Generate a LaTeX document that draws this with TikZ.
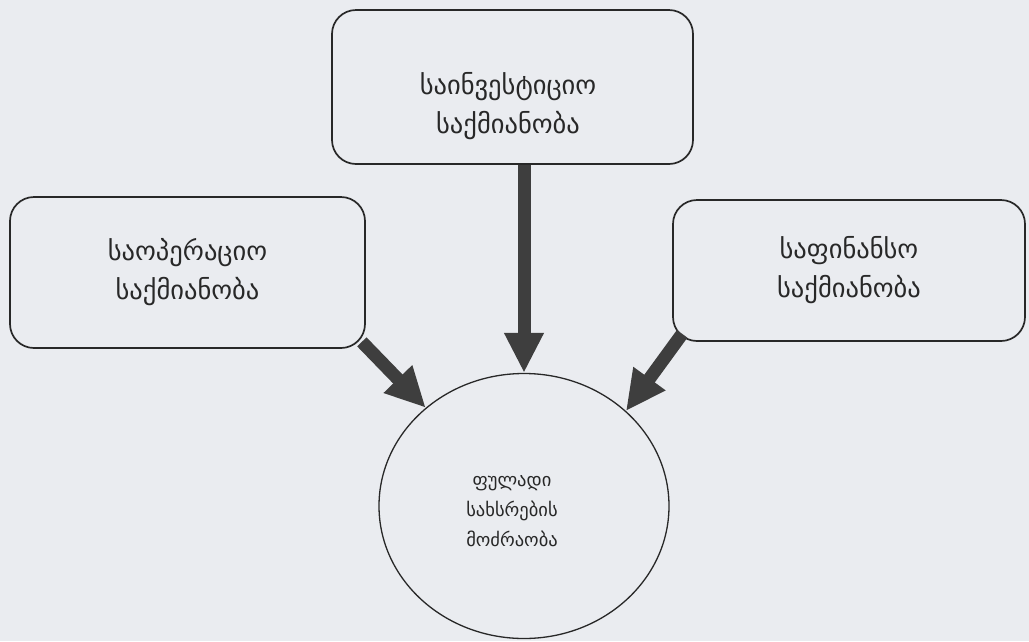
\documentclass[tikz,border=0pt]{standalone}
\usepackage{fontspec}
\newfontfamily\geo{DejaVu Sans}
\usetikzlibrary{arrows.meta,calc,shapes.geometric}
\definecolor{bg}{RGB}{234,236,240}
\definecolor{ink}{RGB}{40,40,40}
\definecolor{arr}{RGB}{62,62,62}
\begin{document}
\begin{tikzpicture}[x=1pt,y=-1pt,
  box/.style={draw=ink, line width=1.7pt, rounded corners=24pt, inner sep=0pt},
  boxfont/.style={align=center, font=\geo\fontsize{26.5}{39}\selectfont, text=ink},
  boxtext/.style={boxfont, inner sep=0pt},
  circtext/.style={align=center, font=\geo\fontsize{18.5}{30}\selectfont, text=ink, inner sep=0pt},
  flow/.style={draw=arr, line width=13pt, -{Triangle[width=37pt,length=40pt,fill=arr]}, shorten >=0pt},
]
\fill[bg] (0,0) rectangle (1029,641);
\useasboundingbox (0,0) rectangle (1029,641);

\node[box, minimum width=361pt, minimum height=154pt] (inv) at (512.5,87) {};
\node[boxtext] (invT) at (508,106) {საინვესტიციო\\საქმიანობა};

\node[box, boxfont, minimum width=355pt, minimum height=151pt] (ope) at (187.5,272.5) {საოპერაციო\\საქმიანობა};

\node[box, boxfont, minimum width=352pt, minimum height=141pt] (fin) at (849,270.5) {საფინანსო\\საქმიანობა};

\node[draw=ink, line width=1.3pt, ellipse, minimum width=290pt, minimum height=265pt, inner sep=0pt] (cash) at (524,506) {};
\node[circtext] (cashT) at (512,511) {ფულადი\\სახსრების\\მოძრაობა};

\coordinate (opeS) at ($(ope.south east)+(-4,-7)$);
\coordinate (finS) at ($(fin.south west)+(10,-8)$);

\draw[flow] (inv.south -| cash.north) -- (cash.north);
\draw[flow] (opeS) -- (cash.135);
\draw[flow] (finS) -- (cash.43);
\end{tikzpicture}
\end{document}
